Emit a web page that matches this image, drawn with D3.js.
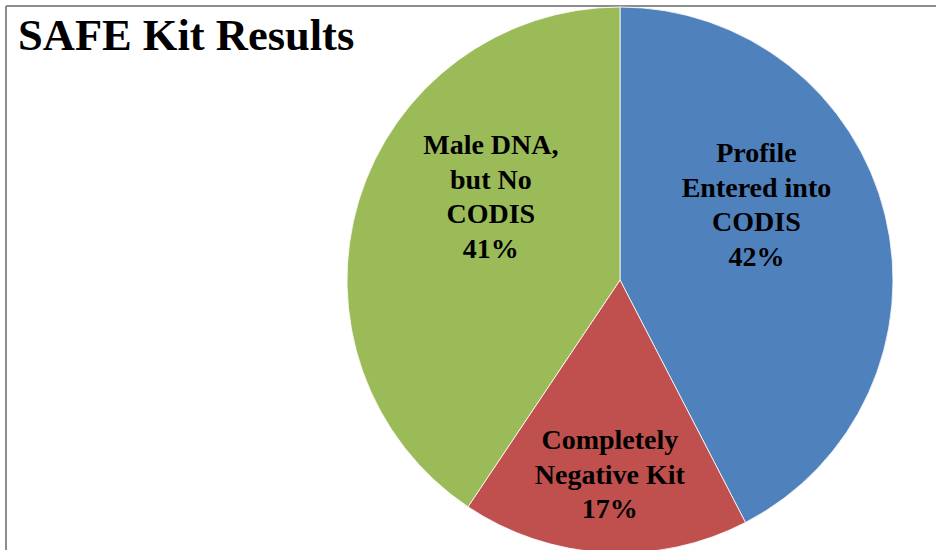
<!DOCTYPE html>
<html>
<head>
<meta charset="utf-8">
<script src="https://cdn.jsdelivr.net/npm/d3@7"></script>
<style>
  body { margin: 0; background: #fff; }
  text { font-family: "Liberation Serif", "DejaVu Serif", serif; font-weight: bold; }
</style>
</head>
<body>
<div id="chart"></div>
<script>
var svgWidth = 936;
var svgHeight = 550;

// data
var categories = ["Profile Entered into CODIS", "Completely Negative Kit", "Male DNA, but No CODIS"];
var values = [42.4, 17.0, 40.6];
var labelLines = [
  ["Profile", "Entered into", "CODIS"],
  ["Completely", "Negative Kit"],
  ["Male DNA,", "but No", "CODIS"]
];
var colors = ["#4F81BD", "#C0504D", "#9BBB59"];

// label placement (polar: degrees clockwise from top, distance from centre)
var labelAngle = [61, 183, -57];
var labelDist = [156, 194, 154];

var cx = 620, cy = 280, radius = 273;

var svg = d3.select("#chart")
  .append("svg")
  .attr("width", svgWidth)
  .attr("height", svgHeight);

// frame lines (top and left)
svg.append("line")
  .attr("x1", 6).attr("y1", 6).attr("x2", svgWidth).attr("y2", 6)
  .attr("stroke", "#8c8c8c").attr("stroke-width", 2);
svg.append("line")
  .attr("x1", 6).attr("y1", 6).attr("x2", 6).attr("y2", svgHeight)
  .attr("stroke", "#8c8c8c").attr("stroke-width", 2);

var data = categories.map((c, i) => ({ name: c, value: values[i], lines: labelLines[i], color: colors[i] }));

var pie = d3.pie()
  .sort(null)
  .value(d => d.value);

var arc = d3.arc()
  .innerRadius(0)
  .outerRadius(radius);

var chartGroup = svg.append("g")
  .attr("transform", `translate(${cx}, ${cy})`);

var slices = chartGroup.selectAll("path")
  .data(pie(data))
  .enter()
  .append("path")
  .attr("d", arc)
  .attr("fill", d => d.data.color)
  .attr("stroke", "#fff")
  .attr("stroke-width", 0.8);

var lineH = 34.5;
var total = d3.sum(values);

var labels = chartGroup.selectAll("g.label")
  .data(pie(data))
  .enter()
  .append("g")
  .attr("class", "label")
  .attr("transform", (d, i) => {
    var a = labelAngle[i] * Math.PI / 180;
    return `translate(${Math.sin(a) * labelDist[i]}, ${-Math.cos(a) * labelDist[i]})`;
  });

labels.each(function(d) {
  var lines = d.data.lines.concat([Math.round(d.data.value / total * 100) + "%"]);
  var g = d3.select(this);
  var top = -(lines.length - 1) * lineH / 2;
  lines.forEach((t, j) => {
    g.append("text")
      .attr("x", 0)
      .attr("y", top + j * lineH)
      .attr("dy", "0.35em")
      .attr("text-anchor", "middle")
      .attr("font-size", 28)
      .attr("fill", "#000")
      .text(t);
  });
});

// title
svg.append("text")
  .attr("x", 18)
  .attr("y", 50)
  .attr("font-size", 44.5)
  .attr("fill", "#000")
  .text("SAFE Kit Results");
</script>
</body>
</html>
